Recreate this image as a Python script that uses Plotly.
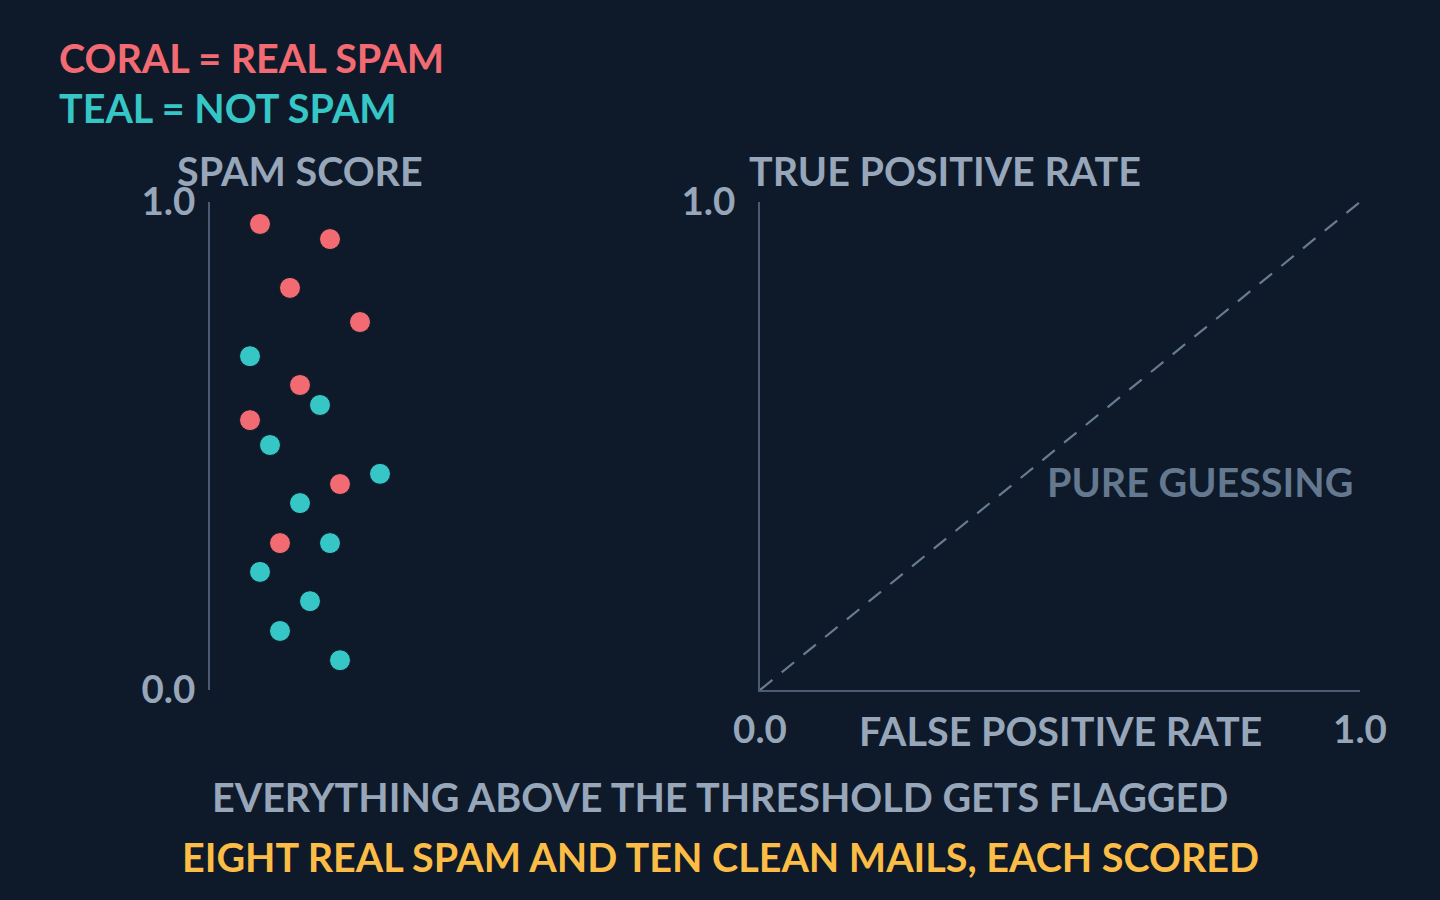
import plotly.graph_objects as go

# ---- data ----
spam_scores = [0.955, 0.924, 0.824, 0.754, 0.625, 0.553, 0.422, 0.301]
spam_jitter = [50, 120, 80, 150, 90, 40, 130, 70]
clean_scores = [0.684, 0.584, 0.502, 0.443, 0.383, 0.301, 0.242, 0.182, 0.121, 0.061]
clean_jitter = [40, 110, 60, 170, 90, 120, 50, 100, 70, 130]
diag_fpr = [0.0, 1.0]
diag_tpr = [0.0, 1.0]
tick_vals = [0.0, 1.0]
tick_text = ["0.0", "1.0"]

BG = "#0e1a2a"
CORAL = "#f36b72"
TEAL = "#36c6c6"
GRAY = "#97a6b9"
DIM = "#64788f"
DASH = "#677c93"
AXIS = "#4b5c72"
GOLD = "#fbbd45"
FONT = "Lato"
WEIGHT = 700

W, H = 1440, 900
def px(x):
    return x / W
def py(y):
    return 1 - y / H

fig = go.Figure()

fig.add_trace(go.Scatter(x=spam_jitter, y=spam_scores, mode="markers",
                         marker=dict(size=21, color=CORAL, line=dict(width=1, color=BG)),
                         xaxis="x", yaxis="y", hoverinfo="skip", showlegend=False))
fig.add_trace(go.Scatter(x=clean_jitter, y=clean_scores, mode="markers",
                         marker=dict(size=21, color=TEAL, line=dict(width=1, color=BG)),
                         xaxis="x", yaxis="y", hoverinfo="skip", showlegend=False))
fig.add_trace(go.Scatter(x=diag_fpr, y=diag_tpr, mode="lines",
                         line=dict(color=DASH, width=2.2, dash="16px,12px"),
                         xaxis="x2", yaxis="y2", hoverinfo="skip", showlegend=False))

tickfont = dict(family=FONT, size=38.5, color=GRAY, weight=WEIGHT)

fig.update_layout(
    width=W, height=H,
    paper_bgcolor=BG, plot_bgcolor=BG,
    margin=dict(l=0, r=0, t=0, b=0, pad=0),
    showlegend=False,
    xaxis=dict(domain=[px(210), px(690)], range=[0, 480], visible=False, fixedrange=True),
    yaxis=dict(domain=[py(690), py(202)], range=[0, 1], anchor="x",
               showgrid=False, zeroline=False, showline=True, linecolor=AXIS, linewidth=2,
               tickvals=tick_vals, ticktext=tick_text, ticks="", tickfont=tickfont,
               ticklabelstandoff=5, fixedrange=True, automargin=False),
    xaxis2=dict(domain=[px(760), px(1360)], range=[0, 1], anchor="y2",
                showgrid=False, zeroline=False, showline=True, linecolor=AXIS, linewidth=2,
                tickvals=tick_vals, ticktext=tick_text, ticks="", tickfont=tickfont,
                ticklabelstandoff=5, fixedrange=True, automargin=False),
    yaxis2=dict(domain=[py(690), py(202)], range=[0, 1], anchor="x2",
                showgrid=False, zeroline=False, showline=True, linecolor=AXIS, linewidth=2,
                tickvals=[1.0], ticktext=["1.0"], ticks="", tickfont=tickfont,
                ticklabelstandoff=15, fixedrange=True, automargin=False),
)

def note(text, x, y, color, xanchor="left", size=39.5):
    fig.add_annotation(text=text, x=px(x), y=py(y), xref="paper", yref="paper",
                       xanchor=xanchor, yanchor="middle", showarrow=False,
                       font=dict(family=FONT, size=size, color=color, weight=WEIGHT))

note("CORAL = REAL SPAM", 57, 58, CORAL)
note("TEAL = NOT SPAM", 57, 107, TEAL)
note("SPAM SCORE", 300, 170, GRAY, xanchor="center")
note("TRUE POSITIVE RATE", 747, 171, GRAY)
note("FALSE POSITIVE RATE", 1060, 730, GRAY, xanchor="center")
note("PURE GUESSING", 1200, 481, DIM, xanchor="center")
note("EVERYTHING ABOVE THE THRESHOLD GETS FLAGGED", 720, 796, GRAY, xanchor="center")
note("EIGHT REAL SPAM AND TEN CLEAN MAILS, EACH SCORED", 720, 856, GOLD, xanchor="center")

fig.write_html("out.html", config={"displayModeBar": False},
               post_script="document.body.style.margin='0';document.body.style.background='%s';" % BG)
